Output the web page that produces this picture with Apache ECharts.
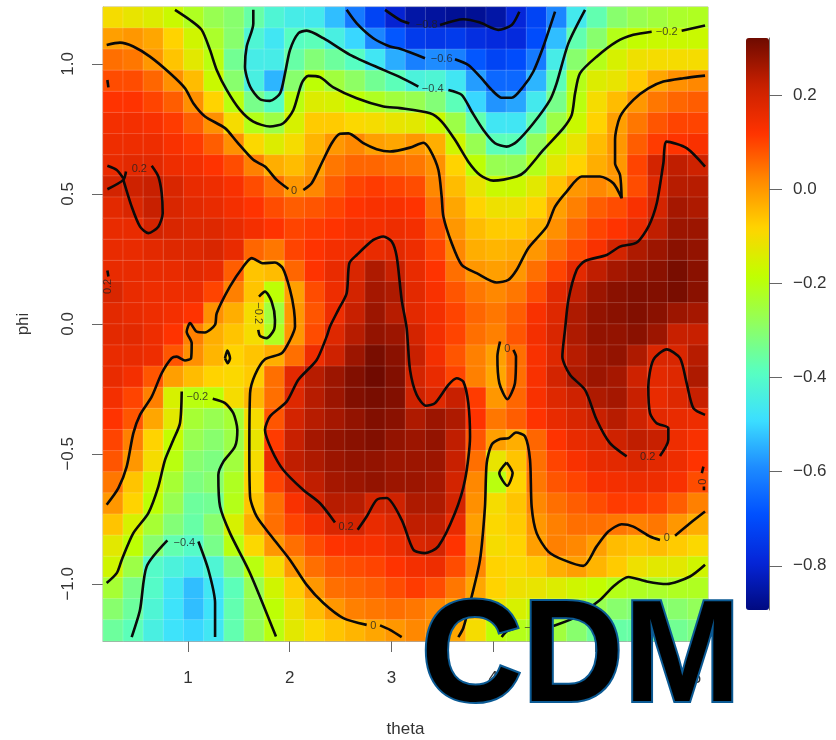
<!DOCTYPE html>
<html><head><meta charset="utf-8">
<style>html,body{margin:0;padding:0;background:#fff}#c{width:836px;height:740px}</style>
<script src="https://cdn.jsdelivr.net/npm/echarts@6/dist/echarts.min.js"></script>
</head><body><div id="c"></div>
<script>
const thetaTicks=[1,2,3,4,5,6];
const phiTicks=[-1,-0.5,0,0.5,1];
const barTicks=[-0.8,-0.6,-0.4,-0.2,0,0.2];
// heat values in hundredths, rows from the top of the plot to the bottom
const heatRows=[
[-10,-12,-14,-17,-22,-27,-30,-36,-42,-45,-46,-53,-62,-72,-80,-85,-86,-87,-87,-85,-79,-72,-60,-46,-37,-30,-27,-25,-23,-22],
[-1,0,-2,-8,-16,-23,-30,-42,-47,-39,-38,-44,-50,-60,-68,-74,-75,-74,-77,-78,-78,-70,-53,-37,-30,-21,-18,-17,-17,-17],
[5,4,0,-6,-13,-20,-34,-45,-45,-36,-31,-35,-39,-47,-55,-61,-59,-61,-68,-72,-70,-62,-45,-30,-21,-15,-11,-10,-10,-10],
[9,9,6,1,-5,-17,-30,-44,-54,-30,-19,-25,-29,-34,-38,-43,-42,-47,-57,-65,-65,-54,-38,-21,-14,-12,-7,-2,1,2],
[12,12,10,7,1,-8,-20,-33,-39,-20,-14,-15,-19,-22,-25,-27,-31,-38,-50,-58,-56,-46,-33,-20,-10,-5,0,4,6,7],
[14,14,13,11,7,1,-10,-21,-26,-15,-7,-7,-9,-10,-12,-13,-17,-26,-37,-47,-47,-37,-26,-17,-8,-1,4,8,10,10],
[15,15,15,13,11,7,1,-9,-14,-10,-4,0,2,-1,-2,0,-3,-16,-27,-38,-38,-28,-17,-12,-5,0,7,11,12,13],
[16,17,17,15,14,12,9,3,-3,-5,-1,4,6,6,5,4,1,-8,-19,-27,-28,-21,-13,-8,-3,0,10,20,23,21],
[20,21,22,19,16,15,13,9,5,0,2,7,10,11,10,9,2,-5,-12,-17,-17,-13,-6,0,2,0,9,18,24,24],
[17,19,22,19,17,16,14,12,9,7,8,10,12,13,13,12,5,-2,-8,-11,-11,-8,-1,3,7,9,13,20,26,25],
[16,16,20,19,18,18,16,14,12,10,11,12,14,14,15,14,8,0,-5,-7,-7,-4,1,6,10,12,16,23,27,27],
[16,16,17,18,18,19,16,6,4,10,12,14,15,16,17,15,10,2,-3,-4,-3,0,5,9,13,20,25,27,29,28],
[16,16,16,16,17,16,7,-6,-5,6,12,16,19,25,22,16,12,5,0,-1,0,5,10,17,23,26,28,29,31,29],
[19,16,15,15,15,10,3,-6,-19,-1,9,15,20,26,25,17,13,8,4,2,4,9,17,23,27,29,30,30,31,29],
[17,16,15,14,12,1,-3,-10,-25,0,8,15,22,27,24,17,14,10,6,4,7,13,18,25,28,29,30,29,27,26],
[17,17,15,12,3,-3,-6,-10,-22,0,9,18,24,28,27,20,14,10,5,3,8,14,19,25,28,28,29,27,22,22],
[16,16,15,8,1,-4,-8,-6,-3,5,15,21,27,31,29,22,14,8,3,-1,5,13,18,24,27,28,25,19,19,24],
[16,14,8,-1,-5,-8,-9,-7,5,17,24,27,30,32,30,20,16,10,3,-2,5,13,20,25,27,26,21,17,18,25],
[14,10,3,-15,-20,-19,-10,-4,5,18,24,27,30,31,30,21,18,22,11,0,6,13,18,21,25,26,22,16,18,22],
[12,8,-2,-13,-24,-27,-24,-10,8,20,24,26,28,30,29,25,27,25,12,4,7,12,16,19,22,24,21,17,16,15],
[10,3,-8,-18,-27,-30,-26,-12,11,22,26,28,29,30,28,27,28,23,8,-1,-3,6,12,16,18,21,23,22,15,13],
[8,0,-10,-20,-30,-32,-25,-10,16,23,25,27,28,28,27,27,27,22,5,-12,-6,5,10,13,16,17,19,17,15,12],
[4,-6,-16,-24,-32,-30,-22,-8,10,19,23,26,27,28,27,27,26,20,2,-20,-8,4,8,10,13,14,15,15,13,9],
[0,-8,-19,-27,-35,-34,-21,-6,5,13,20,24,24,20,21,25,25,20,1,-10,-6,2,5,7,9,11,11,10,7,3],
[-6,-15,-24,-31,-36,-30,-15,-3,5,10,14,19,20,16,18,23,23,16,-1,-9,-7,0,3,5,5,4,3,4,0,-3],
[-13,-19,-30,-37,-40,-33,-20,-9,0,5,9,12,13,13,15,19,20,12,0,-10,-8,-1,3,2,-1,-5,-6,-5,-7,-9],
[-16,-26,-40,-43,-46,-42,-32,-20,-10,0,5,8,9,10,12,14,15,9,2,-8,-9,-7,-3,-1,-4,-7,-11,-13,-13,-16],
[-24,-33,-40,-47,-53,-47,-38,-27,-16,-7,0,5,6,7,9,11,9,4,-2,-8,-11,-12,-14,-16,-18,-21,-22,-23,-22,-22],
[-30,-35,-42,-48,-53,-48,-37,-28,-19,-11,-5,0,3,4,5,4,2,-1,-5,-12,-15,-17,-19,-23,-27,-30,-31,-31,-30,-28],
[-35,-38,-44,-48,-50,-47,-37,-28,-20,-13,-9,-6,-4,-2,0,2,1,-2,-10,-19,-21,-22,-25,-30,-35,-36,-36,-36,-34,-32]
];
// contour lines as [theta, phi]
const zeroTopA=[[.20,1.073],[.331,1.082],[.462,1.067],[.626,1.028],[.823,.964],[.971,.906],[1.052,.849],[1.167,.798],[1.364,.753],[1.479,.701],[1.642,.631],[1.757,.605],[1.872,.554],[1.987,.519]];
const zeroTopB=[[2.134,.515],[2.216,.541],[2.314,.618],[2.413,.695],[2.495,.731],[2.577,.733],[2.724,.695],[2.855,.672],[2.986,.663],[3.183,.678],[3.314,.697],[3.380,.669],[3.462,.592],[3.494,.490],[3.511,.413],[3.593,.310],[3.691,.227],[3.838,.195],[4.035,.159],[4.150,.169],[4.232,.208],[4.346,.291],[4.527,.374],[4.609,.451],[4.723,.509],[4.871,.567],[5.051,.567],[5.182,.541],[5.264,.483],[5.248,.573],[5.199,.618],[5.199,.708],[5.248,.797],[5.379,.862],[5.526,.906],[5.674,.932],[5.870,.945],[6.084,.955]];
const minus2TopA=[[.872,1.208],[1.020,1.169],[1.134,1.131],[1.216,1.054],[1.282,.977],[1.380,.900],[1.511,.823],[1.642,.778],[1.806,.759],[1.937,.772],[2.036,.823],[2.118,.926],[2.183,.954],[2.298,.949],[2.429,.910],[2.659,.868],[2.921,.836],[3.085,.830],[3.380,.810],[3.494,.778],[3.625,.708],[3.756,.624],[3.871,.573],[4.002,.551],[4.232,.567],[4.314,.586],[4.494,.669],[4.691,.753],[4.773,.804],[4.806,.887],[4.854,.964],[5.018,1.028],[5.215,1.086],[5.379,1.112],[5.559,1.124]];
const minus2TopB=[[5.854,1.128],[6.084,1.148]];
const minus4TopA=[[1.642,1.208],[1.642,1.156],[1.577,1.067],[1.560,.990],[1.610,.913],[1.708,.864],[1.806,.858],[1.905,.887],[1.954,.964],[2.003,1.054],[2.085,1.118],[2.167,1.128],[2.331,1.099],[2.593,1.035],[2.921,.977],[3.085,.949],[3.265,.913]];
const minus4TopB=[[3.560,.900],[3.691,.881],[3.789,.817],[3.904,.746],[4.019,.695],[4.133,.682],[4.232,.701],[4.396,.772],[4.560,.862],[4.625,.926],[4.740,1.079],[4.904,1.208]];
const minus6A=[[2.560,1.208],[2.659,1.156],[2.822,1.099],[2.986,1.067],[3.085,1.058],[3.330,1.022]];
const minus6B=[[3.625,1.018],[3.756,.996],[3.871,.951],[3.986,.900],[4.084,.870],[4.183,.870],[4.297,.913],[4.396,.971],[4.494,1.067],[4.609,1.201]];
const minus8A=[[2.937,1.208],[3.085,1.169],[3.176,1.156]];
const minus8B=[[3.478,1.150],[3.707,1.172],[3.871,1.159],[4.051,1.131],[4.183,1.150],[4.258,1.201]];
const plus2LeftA=[[.207,.608],[.299,.592],[.364,.560]];
const plus2LeftB=[[.207,.518],[.364,.554],[.390,.586]];
const plus2LeftC=[[.364,.554],[.446,.451],[.528,.374],[.610,.349],[.708,.374],[.751,.426],[.741,.503],[.708,.567],[.643,.608]];
const plus2Dot1=[[.207,.938],[.217,.910]];
const plus2Dot2=[[.207,.205],[.217,.182]];
const zeroHump=[[.200,-.696],[.315,-.632],[.397,-.549],[.462,-.421],[.528,-.350],[.643,-.280],[.741,-.190],[.839,-.132],[.889,-.126],[.970,-.141],[1.030,-.132],[1.036,-.074],[.987,-.030],[1.020,.003],[1.085,-.030],[1.167,-.033],[1.265,-.004],[1.282,.041],[1.413,.144],[1.544,.221],[1.626,.253],[1.741,.233],[1.855,.236],[1.931,.214],[2.003,.131],[2.042,.054],[2.052,-.010],[2.003,-.062],[1.921,-.113],[1.757,-.136],[1.659,-.196],[1.610,-.267],[1.603,-.497],[1.610,-.664],[1.675,-.741],[1.822,-.818],[2.003,-.908],[2.167,-1.004],[2.331,-1.074],[2.527,-1.132],[2.757,-1.158]];
const zeroHumpEnd=[[2.888,-1.160],[2.986,-1.177],[3.101,-1.205]];
const minus2Inner=[[1.698,.105],[1.757,.124],[1.822,.086],[1.855,.015],[1.845,-.023],[1.773,-.055],[1.708,-.046],[1.691,-.023]];
const zeroDot=[[1.364,-.132],[1.386,-.103],[1.413,-.132],[1.390,-.151],[1.364,-.132]];
const minus2LowA=[[.938,-.260],[.921,-.382],[.856,-.446],[.774,-.523],[.708,-.626],[.610,-.728],[.462,-.805],[.348,-.908],[.299,-.959],[.200,-.997]];
const minus2LowB=[[1.243,-.288],[1.364,-.305],[1.446,-.344],[1.485,-.408],[1.462,-.472],[1.348,-.530],[1.298,-.581],[1.315,-.703],[1.413,-.805],[1.610,-.959],[1.865,-1.203]];
const minus4LowA=[[.446,-1.205],[.528,-1.100],[.594,-.933],[.797,-.833]];
const minus4LowB=[[1.102,-.837],[1.200,-.946],[1.266,-1.074],[1.266,-1.205]];
const plus2Centre=[[2.668,-.792],[2.757,-.741],[2.855,-.677],[2.953,-.670],[3.101,-.754],[3.216,-.869],[3.330,-.882],[3.461,-.856],[3.625,-.728],[3.724,-.600],[3.773,-.433],[3.756,-.305],[3.707,-.222],[3.642,-.209],[3.560,-.235],[3.429,-.305],[3.340,-.315],[3.248,-.273],[3.183,-.177],[3.150,-.017],[3.101,.092],[3.052,.259],[3.003,.317],[2.921,.336],[2.822,.323],[2.659,.265],[2.586,.233],[2.560,.118],[2.478,.054],[2.396,-.010],[2.363,-.049],[2.265,-.139],[2.085,-.215],[1.970,-.299],[1.806,-.356],[1.757,-.408],[1.823,-.485],[1.937,-.562],[2.134,-.639],[2.298,-.690],[2.445,-.764]];
const plus2Right=[[6.084,.605],[5.903,.676],[5.707,.701],[5.674,.618],[5.609,.464],[5.527,.374],[5.412,.313],[5.248,.297],[5.117,.265],[4.904,.242],[4.822,.208],[4.740,.092],[4.707,-.023],[4.681,-.126],[4.756,-.196],[4.904,-.254],[5.018,-.369],[5.149,-.459],[5.313,-.510]];
const plus2RightB=[[5.641,-.508],[5.723,-.446],[5.723,-.401],[5.608,-.382],[5.543,-.344],[5.526,-.241],[5.575,-.139],[5.707,-.098],[5.838,-.132],[5.903,-.228],[5.969,-.324],[6.084,-.350]];
const zeroBlob=[[4.068,-.068],[4.042,-.126],[4.061,-.228],[4.140,-.290],[4.215,-.228],[4.225,-.126],[4.199,-.100]];
const zeroLower=[[3.658,-1.205],[3.707,-1.170],[3.789,-1.049],[3.871,-.908],[3.920,-.703],[3.937,-.536],[3.986,-.465],[4.068,-.443],[4.150,-.440],[4.225,-.418],[4.314,-.433],[4.363,-.523],[4.379,-.703],[4.428,-.805],[4.543,-.876],[4.691,-.908],[4.887,-.931],[5.018,-.856],[5.133,-.799],[5.264,-.771],[5.379,-.780],[5.543,-.818],[5.641,-.831]];
const zeroLowerEnd=[[5.789,-.815],[5.936,-.767],[6.084,-.722]];
const minus2Pocket=[[4.133,-.533],[4.061,-.574],[4.140,-.623],[4.192,-.574],[4.133,-.533]];
const minus2Right=[[6.084,-.927],[5.936,-.972],[5.707,-1.001],[5.510,-.991],[5.330,-.974],[5.182,-1.010],[5.051,-1.062],[4.789,-1.132],[4.592,-1.162]];
const minus2RightEnd=[[4.215,-1.171],[4.133,-1.183],[4.084,-1.205]];
const edgeDash1=[[6.068,-.549],[6.052,-.574]];
const edgeDash2=[[6.073,-.626],[6.073,-.640]];
// [theta, phi, text, rotation]
const contourLabels=[
[3.347,1.150,"\u22120.8",0],[3.494,1.018,"\u22120.6",0],[3.406,.903,"\u22120.4",0],[5.707,1.124,"\u22120.2",0],
[2.042,.513,"0",0],[.521,.595,"0.2",0],[.217,.144,"0.2",90],[1.685,.041,"\u22120.2",-90],
[1.092,-.282,"\u22120.2",0],[.964,-.841,"\u22120.4",0],[2.554,-.782,"0.2",0],[2.822,-1.162,"0",0],
[4.140,-.097,"0",0],[5.520,-.513,"0.2",0],[5.707,-.824,"0",0],[4.412,-1.171,"\u22120.2",0],[6.068,-.607,"0",90]
];
const contours=[zeroTopA,zeroTopB,minus2TopA,minus2TopB,minus4TopA,minus4TopB,minus6A,minus6B,minus8A,minus8B,plus2LeftA,plus2LeftB,plus2LeftC,plus2Dot1,plus2Dot2,zeroHump,zeroHumpEnd,minus2Inner,zeroDot,minus2LowA,minus2LowB,minus4LowA,minus4LowB,plus2Centre,plus2Right,plus2RightB,zeroBlob,zeroLower,zeroLowerEnd,minus2Pocket,minus2Right,minus2RightEnd,edgeDash1,edgeDash2];
const barColors=['#000a80','#0525d8','#0050ff','#1e8cff','#3ce0ff','#58ffc0','#90ff60','#c0ff00','#ffd500','#ff8a00','#ff3300','#c82000','#6e0a00'];

const font='"Liberation Sans", Arial, sans-serif';
const nCols=heatRows[0].length,nRows=heatRows.length;
const heat=[];
heatRows.forEach((r,i)=>r.forEach((v,j)=>heat.push([j,nRows-1-i,v/100])));
const idx=n=>Array.from({length:n},(_,i)=>i);
const minus=v=>String(v).replace('-','\u2212');
const axisLabelBase={color:'#333',fontFamily:font,fontSize:17};
const tickStyle={lineStyle:{color:'#666',width:1}};

const chart=echarts.init(document.getElementById('c'),null,{renderer:'canvas'});
chart.setOption({
 animation:false,
 backgroundColor:'#fff',
 grid:[{left:103,top:7,width:605,height:634,show:true,borderColor:'#aaa',borderWidth:1,backgroundColor:'transparent',outerBoundsMode:'none'},
       {left:746,top:38,width:23,height:572,outerBoundsMode:'none'}],
 xAxis:[
  {type:'category',gridIndex:0,data:idx(nCols),show:false},
  {type:'value',gridIndex:0,min:0.164,max:6.113,position:'bottom',name:'theta',nameLocation:'middle',nameGap:80,
   nameTextStyle:{color:'#333',fontFamily:font,fontSize:17},
   axisLine:{show:true,onZero:false,lineStyle:{color:'#999'}},splitLine:{show:false},
   axisTick:{show:true,length:11,customValues:thetaTicks,...tickStyle},
   axisLabel:{...axisLabelBase,margin:29,customValues:thetaTicks,formatter:v=>String(v)}},
  {type:'value',gridIndex:1,min:0,max:1,show:false}
 ],
 yAxis:[
  {type:'category',gridIndex:0,data:idx(nRows),show:false},
  {type:'value',gridIndex:0,min:-1.22,max:1.219,position:'left',name:'phi',nameLocation:'middle',nameGap:71,nameRotate:90,
   nameTextStyle:{color:'#333',fontFamily:font,fontSize:17},
   axisLine:{show:true,onZero:false,lineStyle:{color:'#999'}},splitLine:{show:false},
   axisTick:{show:true,length:11,customValues:phiTicks,...tickStyle},
   axisLabel:{...axisLabelBase,rotate:90,margin:26,customValues:phiTicks,formatter:v=>minus(v.toFixed(1))}},
  {type:'value',gridIndex:1,min:-0.894,max:0.322,position:'right',
   axisLine:{show:true,onZero:false,lineStyle:{color:'#777'}},splitLine:{show:false},
   axisTick:{show:true,length:13,customValues:barTicks,...tickStyle},
   axisLabel:{...axisLabelBase,margin:24,customValues:barTicks,formatter:v=>minus(v.toFixed(1))}}
 ],
 visualMap:{type:'continuous',seriesIndex:0,dimension:2,min:-0.894,max:0.322,calculable:false,
  left:746,top:38,itemWidth:23,itemHeight:572,padding:0,text:['',''],showLabel:false,
  inRange:{color:barColors}},
 series:[
  {type:'heatmap',xAxisIndex:0,yAxisIndex:0,data:heat,progressive:0,z:1,
   itemStyle:{borderColor:'rgba(255,255,255,0.16)',borderWidth:1},emphasis:{disabled:true}},
  ...contours.map(c=>({type:'line',xAxisIndex:1,yAxisIndex:1,data:c,showSymbol:false,smooth:0.25,z:3,silent:true,
    lineStyle:{color:'#0a0a0a',width:2.6},clip:true})),
  {type:'scatter',xAxisIndex:1,yAxisIndex:1,symbolSize:0,z:4,silent:true,
   data:contourLabels.map(l=>({value:[l[0],l[1]],label:{show:true,position:'inside',formatter:l[2],rotate:l[3],color:'#222',fontFamily:font,fontSize:11}}))}
 ],
 graphic:[{type:'text',z:100,left:419,top:587,scaleX:0.975,
  style:{text:'CDM',font:'bold 144px "Liberation Sans", Arial, sans-serif',fill:'#000',stroke:'#0b5a94',lineWidth:4,
   shadowBlur:6,shadowColor:'rgba(0,0,0,0.5)',shadowOffsetY:3}}]
});
</script></body></html>
